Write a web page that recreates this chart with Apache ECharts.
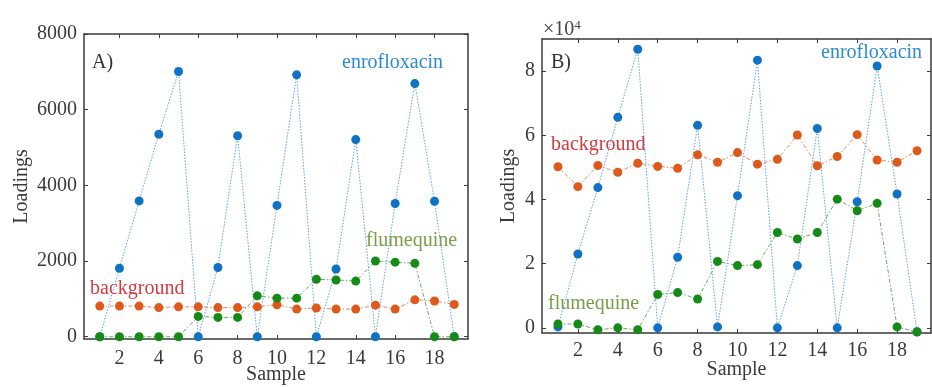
<!DOCTYPE html>
<html>
<head>
<meta charset="utf-8">
<script src="https://cdn.jsdelivr.net/npm/echarts@6/dist/echarts.min.js"></script>
<style>
  html, body { margin: 0; padding: 0; background: #fff; }
  #chart { width: 932px; height: 387px; }
</style>
</head>
<body>
<div id="chart"></div>
<script>
// Sample numbers 1..19
const samples = [1,2,3,4,5,6,7,8,9,10,11,12,13,14,15,16,17,18,19];

// Panel A loadings
const enroA = [0,1810,3590,5350,7010,0,1830,5310,0,3470,6920,0,1790,5210,0,3520,6690,3580,0];
const backA = [810,810,810,770,790,790,770,770,790,845,730,760,730,730,835,730,975,945,855];
const flumA = [0,0,0,0,0,537,510,510,1080,1020,1020,1520,1500,1470,2000,1970,1940,0,0];

// Panel B loadings
const enroB = [300,23000,43700,65600,86800,0,22000,63100,300,41200,83400,0,19400,62100,0,39300,81600,41700,-1200];
const backB = [50200,44000,50600,48500,51300,50300,49700,53900,51600,54600,51000,52500,60100,50500,53400,60200,52300,51600,55200];
const flumB = [1200,1200,-600,0,-600,10400,11000,9000,20700,19400,19700,29700,27700,29700,40100,36500,38800,300,-1300];

// Tick labels
const xTicks = [2,4,6,8,10,12,14,16,18];
const yTicksA = [0,2000,4000,6000,8000];
const yTicksB = [0,20000,40000,60000,80000];

const FONT = '"Liberation Serif", "Times New Roman", serif';
const AXIS_COLOR = '#3a3a3a';
const BLUE = '#0f72c4', ORANGE = '#dd5a1c', GREEN = '#168a16';

function xAxes(grid, labelMargin, nameGap) {
  const base = {
    type: 'value', gridIndex: grid, min: 0.2, max: 19.7,
    splitLine: { show: false },
    axisLine: { show: true, onZero: false, lineStyle: { color: AXIS_COLOR, width: 1.5 } },
    axisTick: { show: true, inside: true, length: 4, customValues: xTicks, lineStyle: { color: AXIS_COLOR } }
  };
  return [
    Object.assign({}, base, {
      position: 'bottom',
      axisLabel: { show: true, customValues: xTicks, color: AXIS_COLOR, fontFamily: FONT, fontSize: 20, margin: labelMargin },
      name: 'Sample', nameLocation: 'middle', nameGap: nameGap, nameMoveOverlap: false,
      nameTextStyle: { color: AXIS_COLOR, fontFamily: FONT, fontSize: 20 }
    }),
    Object.assign({}, base, { position: 'top', axisLabel: { show: false } })
  ];
}

function yAxes(grid, min, max, ticks, fmt, gap) {
  const base = {
    type: 'value', gridIndex: grid, min: min, max: max,
    splitLine: { show: false },
    axisLine: { show: true, onZero: false, lineStyle: { color: AXIS_COLOR, width: 1.5 } },
    axisTick: { show: true, inside: true, length: 4, customValues: ticks, lineStyle: { color: AXIS_COLOR } }
  };
  return [
    Object.assign({}, base, {
      position: 'left',
      axisLabel: { show: true, customValues: ticks, formatter: fmt, color: AXIS_COLOR, fontFamily: FONT, fontSize: 20, margin: 7 },
      name: 'Loadings', nameLocation: 'middle', nameGap: gap, nameRotate: 90,
      nameTextStyle: { color: AXIS_COLOR, fontFamily: FONT, fontSize: 20 }
    }),
    Object.assign({}, base, { position: 'right', axisLabel: { show: false } })
  ];
}

function series(xi, yi, data, color, lineColor, dash) {
  return {
    type: 'line', xAxisIndex: xi, yAxisIndex: yi,
    data: samples.map((s, i) => [s, data[i]]),
    symbol: 'circle', symbolSize: 9,
    itemStyle: { color: color },
    lineStyle: { color: lineColor, width: 1, type: dash },
    silent: true, animation: false
  };
}

const DOT = [1.5, 1.5];
const DASHDOT = [4, 2, 1.5, 2];

const option = {
  animation: false,
  grid: [
    { left: 84, right: 464, top: 34, bottom: 48, outerBoundsMode: 'none', containLabel: false },
    { left: 542, right: 1, top: 39, bottom: 54, outerBoundsMode: 'none', containLabel: false }
  ],
  xAxis: xAxes(0, 10, 26).concat(xAxes(1, 8, 27)),
  yAxis: yAxes(0, -60, 8000, yTicksA, v => String(v), 52)
    .concat(yAxes(1, -1600, 90000, yTicksB, v => String(v / 10000), 23)),
  series: [
    series(0, 0, enroA, BLUE, '#5aa2dc', DOT),
    series(0, 0, backA, ORANGE, '#e8875a', DASHDOT),
    series(0, 0, flumA, GREEN, '#5fae5f', DASHDOT),
    series(2, 2, enroB, BLUE, '#5aa2dc', DOT),
    series(2, 2, backB, ORANGE, '#e8875a', DASHDOT),
    series(2, 2, flumB, GREEN, '#5fae5f', DASHDOT)
  ],
  graphic: [
    { type: 'text', left: 92, top: 53, style: { text: 'A)', fontFamily: FONT, fontSize: 20, fill: '#333' } },
    { type: 'text', left: 342, top: 53, style: { text: 'enrofloxacin', fontFamily: FONT, fontSize: 20, fill: '#2c8ad2' } },
    { type: 'text', left: 90, top: 279, style: { text: 'background', fontFamily: FONT, fontSize: 20, fill: '#d63a3f' } },
    { type: 'text', left: 366, top: 231, style: { text: 'flumequine', fontFamily: FONT, fontSize: 20, fill: '#7a9e48' } },
    { type: 'text', left: 551, top: 53, style: { text: 'B)', fontFamily: FONT, fontSize: 20, fill: '#333' } },
    { type: 'text', left: 821, top: 43, style: { text: 'enrofloxacin', fontFamily: FONT, fontSize: 20, fill: '#2c8ad2' } },
    { type: 'text', left: 551, top: 135, style: { text: 'background', fontFamily: FONT, fontSize: 20, fill: '#d63a3f' } },
    { type: 'text', left: 548, top: 294, style: { text: 'flumequine', fontFamily: FONT, fontSize: 20, fill: '#7a9e48' } },
    { type: 'text', left: 543, top: 19, style: { rich: {
        b: { fontFamily: FONT, fontSize: 20, fill: '#444' },
        s: { fontFamily: FONT, fontSize: 13, fill: '#444', verticalAlign: 'top', padding: [0, 0, 8, 0] } },
        text: '{b|×10}{s|4}' } }
  ]
};

const chart = echarts.init(document.getElementById('chart'), null, { renderer: 'canvas' });
chart.setOption(option);
</script>
</body>
</html>
